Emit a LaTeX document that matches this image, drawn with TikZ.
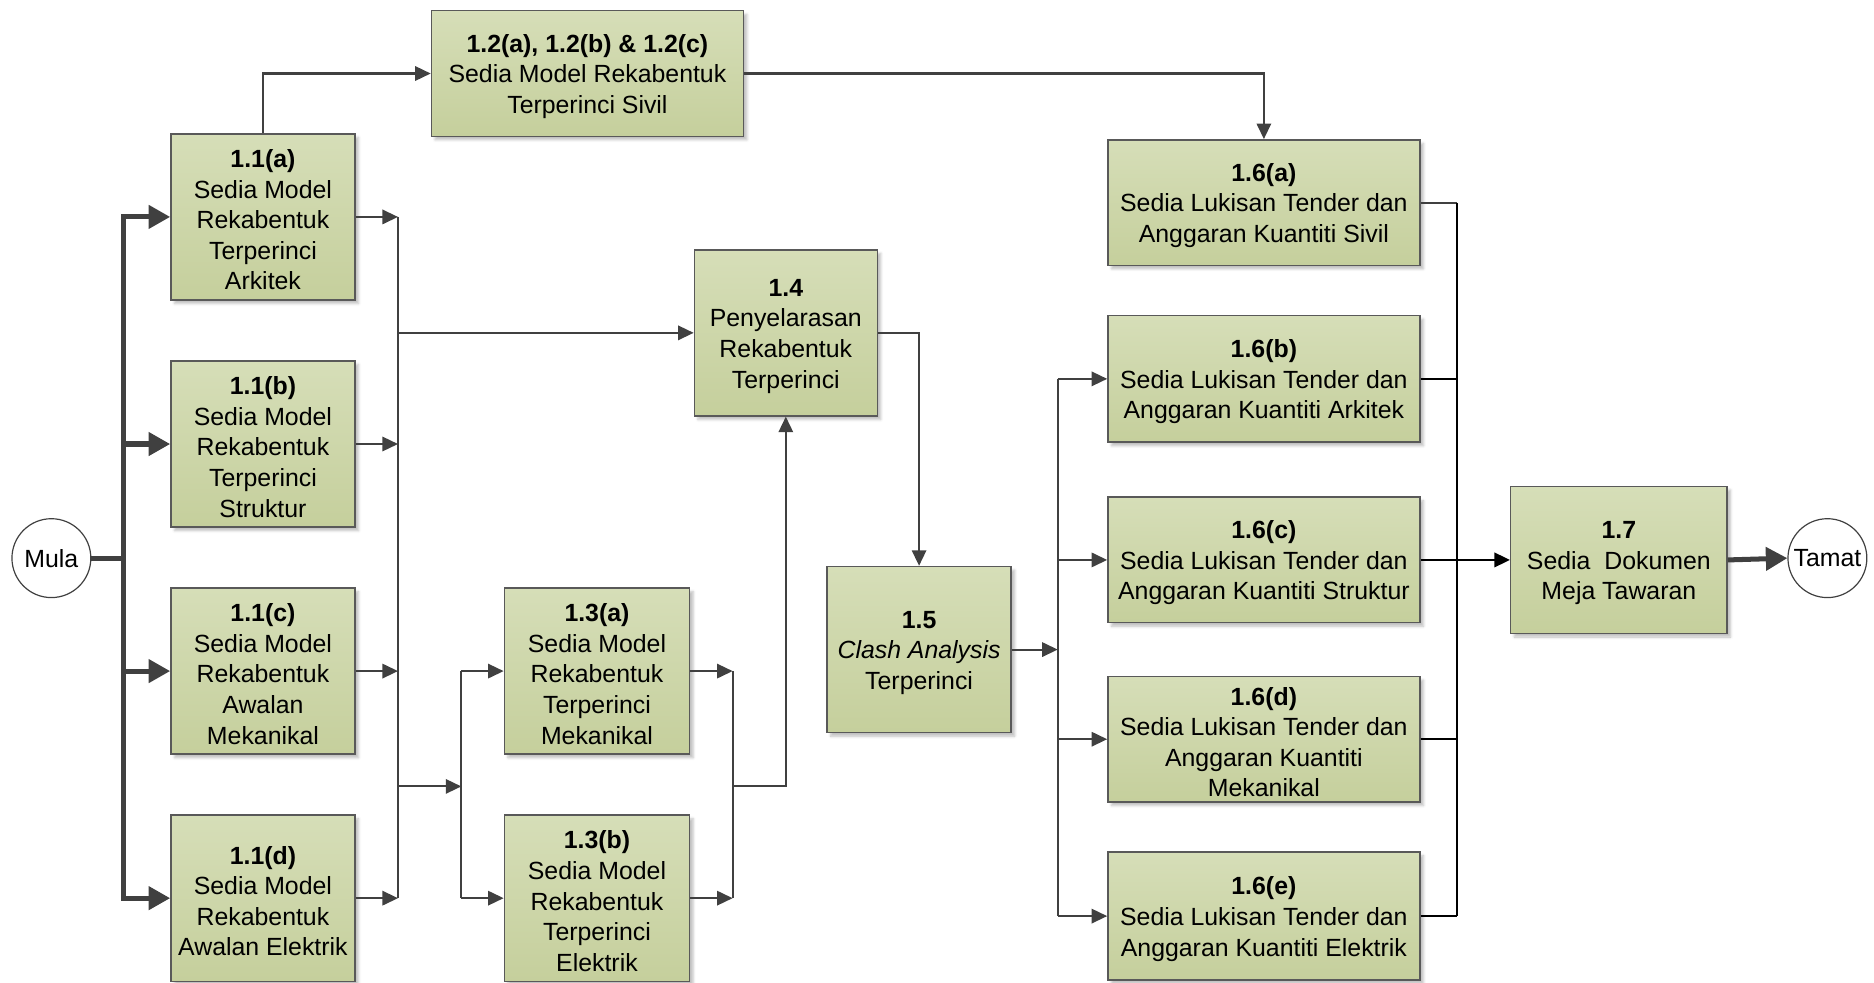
\documentclass[tikz,border=0pt]{standalone}
\usepackage{fontspec}
\setmainfont{Liberation Sans}
\usetikzlibrary{arrows.meta,shadows.blur}

\definecolor{boxtop}{HTML}{D6DEB8}
\definecolor{boxbot}{HTML}{C5CF9C}
\definecolor{boxline}{HTML}{595959}
\definecolor{wire}{HTML}{404040}

% a little extra room above the first line lowers the text block slightly
\newcommand\hd[1]{\rule{0pt}{20pt}\textbf{#1}}

\tikzset{
  procbox/.style={draw=boxline, line width=1.2pt, top color=boxtop, bottom color=boxbot,
    minimum width=#1, inner sep=0pt, align=center,
    blur shadow={shadow xshift=3pt, shadow yshift=-3pt, shadow blur steps=4, shadow opacity=25}},
  procbox/.default=154pt,
  endcirc/.style={draw=wire, line width=1pt, fill=white, circle, minimum size=66pt, inner sep=0pt},
  wireln/.style={draw=wire, line width=1.7pt},
  arr/.style={wireln, -{Triangle[length=13pt,width=12pt]}},
  darkln/.style={draw=black, line width=2.1pt},
  darkarr/.style={darkln, -{Triangle[length=13pt,width=12pt]}},
  thk/.style={draw=wire, line width=4.2pt, -{Triangle[length=18pt,width=19pt]}},
}

\begin{document}
\begin{tikzpicture}[x=1pt,y=-1pt, font=\fontsize{20.8}{25.6}\selectfont]
\useasboundingbox (0,0) rectangle (1568,822);

% start and end
\node[endcirc] (mula) at (43,467) {Mula};
\node[endcirc] (tamat) at (1529,467) {Tamat};

% first column of models
\node[procbox, minimum height=139pt] (a11) at (220,181.5) {\hd{1.1(a)}\\Sedia Model\\Rekabentuk\\Terperinci\\Arkitek};
\node[procbox, minimum height=139pt] (b11) at (220,371.5) {\hd{1.1(b)}\\Sedia Model\\Rekabentuk\\Terperinci\\Struktur};
\node[procbox, minimum height=139pt] (c11) at (220,561.5) {\hd{1.1(c)}\\Sedia Model\\Rekabentuk\\Awalan\\Mekanikal};
\node[procbox, minimum height=139pt] (d11) at (220,751.5) {\hd{1.1(d)}\\Sedia Model\\Rekabentuk\\Awalan Elektrik};

% civil model
\node[procbox=261pt, minimum height=105pt] (s12) at (491.5,61.5) {\hd{1.2(a), 1.2(b) \& 1.2(c)}\\Sedia Model Rekabentuk\\Terperinci Sivil};

% detailed M&E models
\node[procbox=155pt, minimum height=139pt] (a13) at (499.5,561.5) {\hd{1.3(a)}\\Sedia Model\\Rekabentuk\\Terperinci\\Mekanikal};
\node[procbox=155pt, minimum height=139pt] (b13) at (499.5,751.5) {\hd{1.3(b)}\\Sedia Model\\Rekabentuk\\Terperinci\\Elektrik};

% coordination and clash analysis
\node[procbox=153pt, minimum height=139pt] (p14) at (657.5,278.5) {\hd{1.4}\\Penyelarasan\\Rekabentuk\\Terperinci};
\node[procbox=154pt, minimum height=139pt] (p15) at (769,543.5) {\hd{1.5}\\\textit{Clash Analysis}\\Terperinci};

% tender drawings and bills of quantities
\node[procbox=261pt, minimum height=105pt] (a16) at (1057.5,169.5) {\hd{1.6(a)}\\Sedia Lukisan Tender dan\\Anggaran Kuantiti Sivil};
\node[procbox=261pt, minimum height=106pt] (b16) at (1057.5,317) {\hd{1.6(b)}\\Sedia Lukisan Tender dan\\Anggaran Kuantiti Arkitek};
\node[procbox=261pt, minimum height=105pt] (c16) at (1057.5,468.5) {\hd{1.6(c)}\\Sedia Lukisan Tender dan\\Anggaran Kuantiti Struktur};
\node[procbox=261pt, minimum height=105pt] (d16) at (1057.5,618.5) {\hd{1.6(d)}\\Sedia Lukisan Tender dan\\Anggaran Kuantiti\\Mekanikal};
\node[procbox=261pt, minimum height=107pt] (e16) at (1057.5,766.5) {\hd{1.6(e)}\\Sedia Lukisan Tender dan\\Anggaran Kuantiti Elektrik};

% tender document
\node[procbox=181pt, minimum height=123pt] (p17) at (1354.5,468.5) {\hd{1.7}\\Sedia\ \ Dokumen\\Meja Tawaran};

% junction points
\coordinate (t0) at (103,467);
\coordinate (bus1) at (333,658);
\coordinate (bus2) at (386,658);
\coordinate (bus3) at (613,658);
\coordinate (bus4) at (885,543.5);
\coordinate (bus5) at (1219,468.5);

% Mula fans out to the four models
\foreach \n in {a11,b11,c11,d11}
  \draw[thk] (mula.east) -- (t0) |- (\n.west);

% outputs of the first column
\foreach \n in {a11,b11,c11,d11}
  \draw[arr] (\n.east) -- (\n.east -| bus1);
\draw[wireln] (a11.east -| bus1) -- (d11.east -| bus1);
\draw[arr] (p14.west -| bus1) -- (p14.west);
\draw[arr] (bus1) -- (bus2);

% into the detailed M&E models
\draw[wireln] (a13.west -| bus2) -- (b13.west -| bus2);
\draw[arr] (a13.west -| bus2) -- (a13.west);
\draw[arr] (b13.west -| bus2) -- (b13.west);

% out of the detailed M&E models
\draw[arr] (a13.east) -- (a13.east -| bus3);
\draw[arr] (b13.east) -- (b13.east -| bus3);
\draw[wireln] (a13.east -| bus3) -- (b13.east -| bus3);
\draw[arr] (bus3) -| (p14.south);

% civil branch
\draw[arr] (a11.north) |- (s12.west);
\draw[arr] (s12.east) -| (a16.north);

% coordination to clash analysis
\draw[arr] (p14.east) -| (p15.north);
\draw[arr] (p15.east) -- (bus4);
\draw[wireln] (b16.west -| bus4) -- (e16.west -| bus4);
\foreach \n in {b16,c16,d16,e16}
  \draw[arr] (\n.west -| bus4) -- (\n.west);

% collecting the tender packages
\draw[wireln] (a16.east) -- (a16.east -| bus5);
\foreach \n in {b16,d16,e16}
  \draw[darkln] (\n.east) -- (\n.east -| bus5);
\draw[darkln] (a16.east -| bus5) -- (e16.east -| bus5);
\draw[darkarr] (c16.east) -- (p17.west);

% finish
\draw[thk] (p17.east) -- (tamat.west);
\end{tikzpicture}
\end{document}
